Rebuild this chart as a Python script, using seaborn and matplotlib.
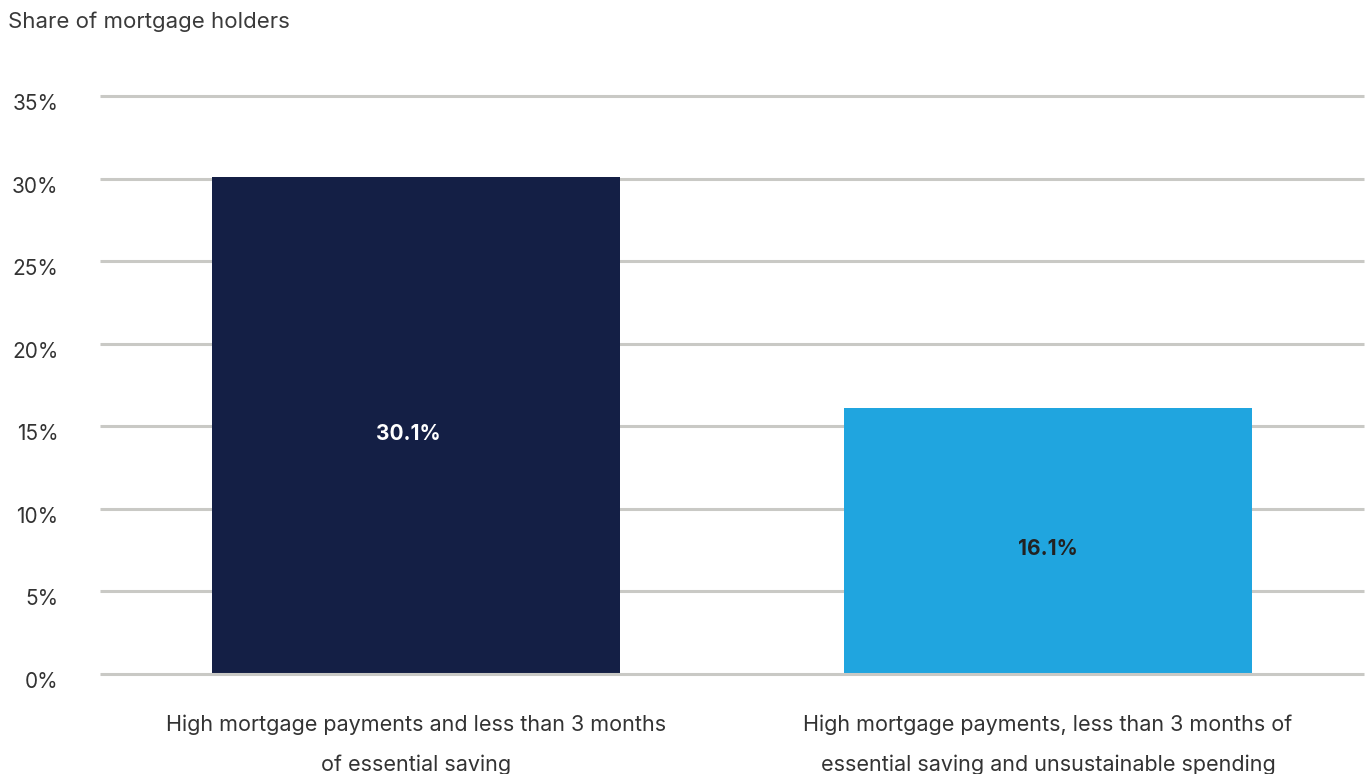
import matplotlib
matplotlib.use("Agg")
import matplotlib.pyplot as plt
import matplotlib.transforms as mtransforms
import seaborn as sns
import pandas as pd

categories = [
    "High mortgage payments and less than 3 months\nof essential saving",
    "High mortgage payments, less than 3 months of\nessential saving and unsustainable spending",
]
shares = [30.1, 16.1]
bar_colors = ["#141f45", "#20a5df"]
label_colors = ["#ffffff", "#222222"]
yticks = [0, 5, 10, 15, 20, 25, 30, 35]

sns.set_theme(style="white")
plt.rcParams["font.family"] = ["Inter", "DejaVu Sans"]

df = pd.DataFrame({"category": categories, "share": shares})

fig = plt.figure(figsize=(13.72, 7.74), dpi=100)
ax = fig.add_axes([100 / 1372, 1 - 674 / 774, 1264 / 1372, 578 / 774])

for y in yticks[1:]:
    ax.axhline(y, color="#c9c9c5", lw=2.2, zorder=0, clip_on=False,
               solid_capstyle="butt")

sns.barplot(data=df, x="category", y="share", hue="category",
            palette=bar_colors, width=0.645, legend=False, ax=ax,
            saturation=1, linewidth=0, zorder=2)
ax.axhline(0, color="#c9c9c5", lw=2.2, zorder=3, clip_on=False,
           solid_capstyle="butt")

for i, (v, c) in enumerate(zip(shares, label_colors)):
    ax.text(i - 0.012 if i == 0 else i, v / 2 - 0.5, f"{v:.1f}%", ha="center", va="center",
            color=c, fontsize=15, fontweight="bold", zorder=4)

ax.set_xlim(-0.5, 1.5)
ax.set_ylim(0, 35)
ax.set_yticks(yticks)
ax.set_yticklabels([f"{t}%" for t in yticks])
ax.set_xlabel("")
ax.set_ylabel("")
for s in ax.spines.values():
    s.set_visible(False)
ax.tick_params(axis="y", length=0, pad=30, labelsize=15, labelcolor="#333333")
ax.tick_params(axis="x", length=0, pad=29, labelsize=15.5, labelcolor="#333333")
shift = mtransforms.ScaledTranslation(0, -6 / 100, fig.dpi_scale_trans)
for lbl in ax.get_yticklabels():
    lbl.set_transform(lbl.get_transform() + shift)
for lbl in ax.get_xticklabels():
    lbl.set_linespacing(2.2)
    lbl.set_ha("center")

fig.text(8 / 1372, 1 - 22 / 774, "Share of mortgage holders", ha="left", va="center",
         fontsize=16, color="#3a3a3a")

fig.savefig("out.png", dpi=100)
